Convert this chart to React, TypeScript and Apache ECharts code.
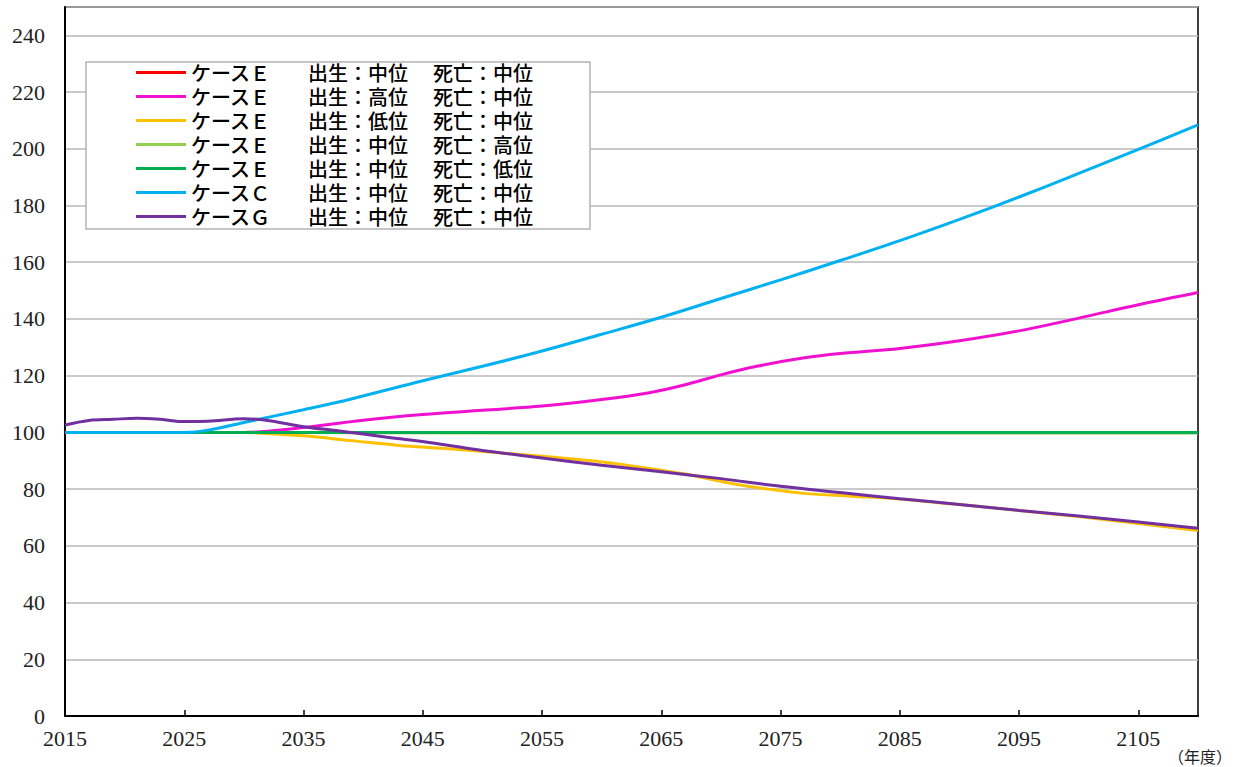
import React, { useEffect, useRef } from "react";
import * as echarts from "echarts";

// Categories (fiscal years)
const years: string[] = [];
for (let y = 2015; y <= 2110; y++) years.push(String(y));

const yTickMax = 250;

// Series names (legend): case, births, deaths
const names = [
  "ケースＥ　出生：中位　死亡：中位",
  "ケースＥ　出生：高位　死亡：中位",
  "ケースＥ　出生：低位　死亡：中位",
  "ケースＥ　出生：中位　死亡：高位",
  "ケースＥ　出生：中位　死亡：低位",
  "ケースＣ　出生：中位　死亡：中位",
  "ケースＧ　出生：中位　死亡：中位",
];
const colors = ["#FF0000", "#F010D0", "#FFC000", "#92D050", "#00B050", "#00B0F0", "#7030A0"];

// Values read at sample years
const eMidYears = [2015, 2030, 2050, 2070, 2090, 2110];
const eMidValues = [100, 100, 100, 100, 100, 100];

const eBirthHighYears = [2015, 2025, 2030, 2032, 2035, 2040, 2045, 2050, 2055, 2060, 2064, 2067, 2070, 2073, 2077, 2080, 2085, 2090, 2095, 2100, 2105, 2110];
const eBirthHighValues = [100, 100, 100, 100.4, 101.7, 104.3, 106.3, 107.8, 109.3, 111.6, 114, 116.8, 120.3, 123.3, 126.3, 127.8, 129.6, 132.3, 135.8, 140.3, 145, 149.3];

const eBirthLowYears = [2015, 2025, 2030, 2032, 2035, 2039, 2043, 2048, 2052, 2056, 2060, 2064, 2067, 2071, 2074, 2077, 2081, 2085, 2088, 2092, 2096, 2100, 2105, 2110];
const eBirthLowValues = [100, 100, 100, 99.6, 98.8, 97.1, 95.4, 94.0, 92.6, 91.2, 89.6, 87.3, 85.3, 81.9, 80.0, 78.5, 77.5, 76.5, 75.3, 73.8, 72.0, 70.3, 67.9, 65.4];

const eDeathHighYears = [2015, 2030, 2040, 2060, 2080, 2110];
const eDeathHighValues = [100, 100, 99.9, 99.8, 99.8, 99.8];

const eDeathLowYears = [2015, 2030, 2050, 2080, 2110];
const eDeathLowValues = [100, 100, 100, 100, 100];

const cYears = [2015, 2020, 2025, 2027, 2030, 2035, 2039, 2045, 2050, 2055, 2060, 2065, 2070, 2075, 2080, 2085, 2090, 2095, 2100, 2105, 2110];
const cValues = [100, 100, 100, 100.8, 103.5, 108.0, 111.8, 118.2, 123.3, 128.7, 134.6, 140.6, 147.2, 153.8, 160.6, 167.6, 175.1, 183.0, 191.3, 199.8, 208.4];

const gYears = [2015, 2017, 2019, 2021, 2023, 2025, 2027, 2030, 2032, 2035, 2038, 2042, 2046, 2050, 2055, 2060, 2065, 2070, 2075, 2080, 2085, 2090, 2095, 2100, 2105, 2110];
const gValues = [102.6, 104.2, 104.6, 105.0, 104.6, 103.8, 103.9, 104.8, 104.2, 102.0, 100.5, 98.3, 96.2, 93.6, 91.0, 88.4, 86.1, 83.7, 81.0, 78.8, 76.6, 74.6, 72.5, 70.5, 68.4, 66.2];

const seriesYears = [eMidYears, eBirthHighYears, eBirthLowYears, eDeathHighYears, eDeathLowYears, cYears, gYears];
const seriesValues = [eMidValues, eBirthHighValues, eBirthLowValues, eDeathHighValues, eDeathLowValues, cValues, gValues];

export default function App() {
  const ref = useRef<HTMLDivElement>(null);
  useEffect(() => {
    if (!ref.current) return;
    const chart = echarts.init(ref.current, null, { renderer: "svg" });
    const serif = "'Liberation Serif', 'DejaVu Serif', serif";
    const jp = "'Noto Sans CJK JP', 'Noto Sans', sans-serif";
    const partStyle = { fontFamily: jp, fontSize: 20, fontWeight: 500, color: "#000000", lineHeight: 21 };
    chart.setOption({
      animation: false,
      backgroundColor: "#ffffff",
      grid: {
        left: 65,
        right: 40,
        top: 7,
        bottom: 51,
        containLabel: false,
        outerBoundsMode: "none",
        show: true,
        borderColor: "#000000",
        borderWidth: 1.5,
        backgroundColor: "transparent",
      },
      xAxis: {
        type: "category",
        data: years,
        boundaryGap: false,
        axisLine: { show: true, lineStyle: { color: "#000000", width: 2 } },
        axisTick: { show: true, inside: true, length: 6, interval: 9, lineStyle: { color: "#000000", width: 1.5 } },
        axisLabel: {
          interval: 9,
          margin: 11,
          color: "#222222",
          fontFamily: serif,
          fontSize: 22,
        },
        splitLine: { show: false },
      },
      yAxis: {
        type: "value",
        min: 0,
        max: yTickMax,
        interval: 20,
        axisLine: { show: true, lineStyle: { color: "#000000", width: 2 } },
        axisTick: { show: false },
        axisLabel: {
          margin: 20,
          color: "#222222",
          fontFamily: serif,
          fontSize: 22,
          formatter: (v: number) => (v === yTickMax ? "" : String(v)),
        },
        splitLine: { show: true, lineStyle: { color: "#b8b8b8", width: 1.5 } },
      },
      legend: {
        show: true,
        orient: "vertical",
        left: 136,
        top: 62,
        padding: 0,
        itemGap: 3,
        icon: "rect",
        itemWidth: 50,
        itemHeight: 3,
        z: 10,
        formatter: (name: string) => {
          const p = name.split("　");
          return `{a|${p[0]}}{b|${p[1]}}{c|${p[2]}}`;
        },
        textStyle: {
          fontFamily: jp,
          fontSize: 20,
          lineHeight: 21,
          color: "#000000",
          rich: {
            a: { ...partStyle, width: 117 },
            b: { ...partStyle, width: 125 },
            c: { ...partStyle },
          },
        },
        data: names,
      },
      graphic: [
        {
          type: "rect",
          z: 5,
          shape: { x: 86, y: 62, width: 504, height: 167 },
          style: { fill: "#ffffff", stroke: "#b4b4b4", lineWidth: 1.5 },
        },
        {
          type: "text",
          z: 5,
          x: 1168,
          y: 748,
          style: { text: "（年度）", fontFamily: jp, fontSize: 16, fill: "#222222" },
        },
      ],
      series: names.map((name, i) => ({
        name,
        type: "line",
        smooth: 0.35,
        showSymbol: false,
        symbol: "none",
        connectNulls: true,
        color: colors[i],
        lineStyle: { color: colors[i], width: 3 },
        z: 2 + i,
        data: seriesYears[i].map((y, k) => [String(y), seriesValues[i][k]]),
      })),
    });
    return () => chart.dispose();
  }, []);
  return <div ref={ref} style={{ position: "absolute", left: 0, top: 0, width: 1238, height: 767 }} />;
}
